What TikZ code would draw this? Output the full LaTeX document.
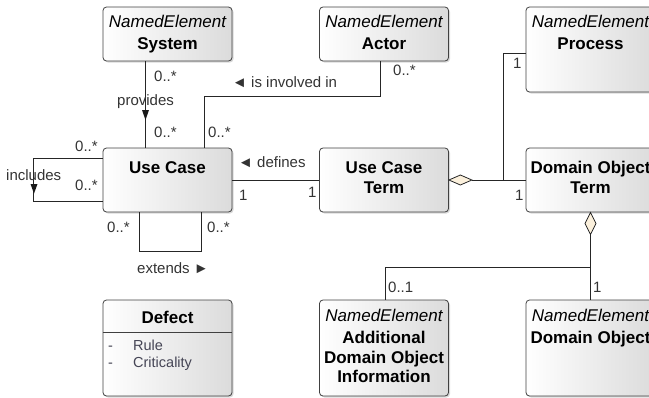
\documentclass[tikz,border=0pt]{standalone}
\usepackage{fontspec}
\setmainfont{Liberation Sans}
\usetikzlibrary{shadows}
\definecolor{boxline}{HTML}{404040}
\definecolor{lbl}{HTML}{333333}
\definecolor{attr}{HTML}{454555}
\definecolor{dia}{HTML}{FBF0DC}
\begin{document}
\begin{tikzpicture}[x=1pt,y=-1pt,
  umlbox/.style={draw=boxline, line width=0.8pt, rounded corners=3.5pt,
    left color=white, right color=black!14,
    drop shadow={shadow xshift=1.5pt, shadow yshift=-1.5pt, opacity=0.3},
    minimum width=129pt, inner sep=0pt},
  boxtxt/.style={anchor=base, font=\fontsize{17}{20}\selectfont, inner sep=0pt},
  stereo/.style={boxtxt, font=\fontsize{17}{20}\selectfont\itshape},
  bname/.style={boxtxt, font=\fontsize{17}{20}\selectfont\bfseries},
  lab/.style={anchor=base west, text=lbl, font=\fontsize{15}{18}\selectfont, inner sep=0pt},
  attrtxt/.style={anchor=base west, text=attr, font=\fontsize{14.5}{18}\selectfont, inner sep=0pt},
  conn/.style={draw=black!85, line width=0.8pt},
  agg/.style={draw=black!85, line width=0.8pt, fill=dia, line join=miter},
  dirtri/.style={fill=black!90, draw=none}
]
\useasboundingbox (0,0) rectangle (649,397);
\clip (0,0) rectangle (649,397);

% boxes
\node[umlbox, minimum height=54pt] (sys) at (167.5,34) {};
\node[umlbox, minimum height=54pt] (act) at (384,34) {};
\node[umlbox, minimum height=85pt] (proc) at (590.5,49.5) {};
\node[umlbox, minimum height=64pt] (uc) at (167.5,180) {};
\node[umlbox, minimum height=64pt] (uct) at (384,180) {};
\node[umlbox, minimum height=64pt] (dot) at (590.5,180) {};
\node[umlbox, minimum height=96pt] (def) at (167.5,348) {};
\node[umlbox, minimum height=96pt] (add) at (384,348) {};
\node[umlbox, minimum height=96pt] (dob) at (590.5,348) {};

% box texts
\node[stereo] (sysS) at (167.5,27) {NamedElement};
\node[bname] (sysN) at (167.5,49) {System};
\node[stereo] (actS) at (384,27) {NamedElement};
\node[bname] (actN) at (384,49) {Actor};
\node[stereo] (procS) at (590.5,27) {NamedElement};
\node[bname] (procN) at (590.5,49) {Process};
\node[bname] (ucN) at (167.5,173) {Use Case};
\node[bname] (uctN1) at (384,173) {Use Case};
\node[bname] (uctN2) at (384,193) {Term};
\node[bname] (dotN1) at (590.5,173) {Domain Object};
\node[bname] (dotN2) at (590.5,193) {Term};
\node[bname] (defN) at (167.5,323) {Defect};
\draw[draw=boxline, line width=0.8pt] ([yshift=16pt]def.west) -- ([yshift=16pt]def.east);
\node[attrtxt] (defA1d) at (108,350) {-};
\node[attrtxt] (defA1) at (133,350) {Rule};
\node[attrtxt] (defA2d) at (108,367) {-};
\node[attrtxt] (defA2) at (133,367) {Criticality};
\node[stereo] (addS) at (384,321) {NamedElement};
\node[bname] (addN1) at (384,343) {Additional};
\node[bname] (addN2) at (384,363) {Domain Object};
\node[bname] (addN3) at (384,382) {Information};
\node[stereo] (dobS) at (590.5,321) {NamedElement};
\node[bname] (dobN) at (590.5,343) {Domain Object};

% System -- Use Case (provides)
\draw[conn] ([xshift=-22pt]sys.south) -- ([xshift=-22pt]uc.north);
\node[lab] (l1) at (154,81) {0..*};
\node[lab] (l2) at (117,105) {provides};
\fill[dirtri] (142,110) -- (149,110) -- (145.5,120) -- cycle;
\node[lab] (l3) at (154,137) {0..*};

% Actor -- Use Case (is involved in)
\draw[conn] ([xshift=-4pt]act.south) -- ++(0,35) -| ([xshift=36.5pt]uc.north);
\node[lab] (l4) at (393,75) {0..*};
\node[lab] (l5) at (232,87) {◄ is involved in};
\node[lab] (l6) at (208,137) {0..*};

% includes (self loop left)
\draw[conn] ([yshift=22pt]uc.west) -- ++(-69,0) |- ([yshift=-21pt]uc.west);
\node[lab] (l7) at (75,151) {0..*};
\node[lab] (l8) at (75,190) {0..*};
\node[lab] (l9) at (6,180) {includes};
\fill[dirtri] (30.5,184) -- (37.5,184) -- (34,193.5) -- cycle;

% extends (self loop bottom)
\draw[conn] ([xshift=-28.5pt]uc.south) -- ++(0,39) -| ([xshift=33.5pt]uc.south);
\node[lab] (l10) at (107,232) {0..*};
\node[lab] (l11) at (207,232) {0..*};
\node[lab] (l12) at (137,273) {extends ►};

% defines
\draw[conn] (uc.east) -- (uct.west);
\node[lab] (l13) at (238,167) {◄ defines};
\node[lab] (l14) at (239,200) {1};
\node[lab] (l15) at (308,197) {1};

% aggregation Use Case Term -- Domain Object Term / Process
\draw[agg] (uct.east) -- ++(11.5,-5) -- ++(11.5,5) -- ++(-11.5,5) -- cycle;
\coordinate (aggA) at ([xshift=23pt]uct.east);
\coordinate (j1) at ([xshift=-22pt]dot.west);
\draw[conn] (aggA) -- (dot.west);
\draw[conn] (j1) |- ([yshift=-3.5pt]proc.west);
\node[lab] (l16) at (513,68) {1};
\node[lab] (l17) at (515,200) {1};

% aggregation Domain Object Term -- Additional / Domain Object
\draw[agg] (dot.south) -- ++(5.5,11) -- ++(-5.5,11) -- ++(-5.5,-11) -- cycle;
\coordinate (aggB) at ([yshift=-22pt]dot.south);
\coordinate (j2) at ([yshift=-55pt]dot.south);
\draw[conn] (aggB) -- (dob.north);
\draw[conn] (j2) -| ([xshift=1pt]add.north);
\node[lab] (l18) at (388,292) {0..1};
\node[lab] (l19) at (593,292) {1};
\end{tikzpicture}
\end{document}
